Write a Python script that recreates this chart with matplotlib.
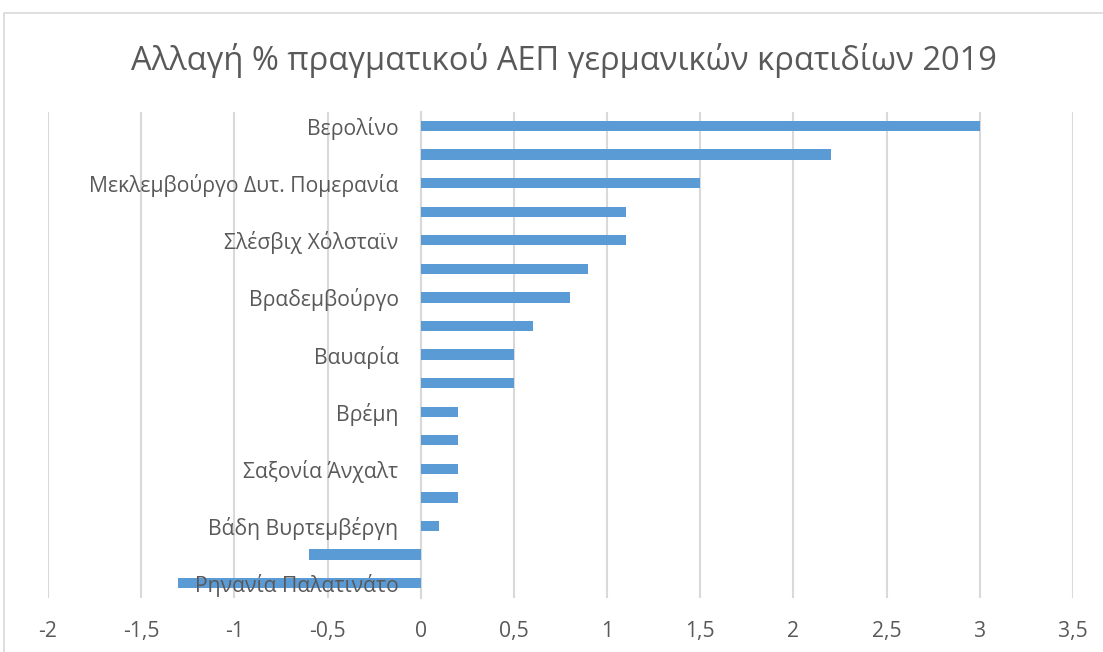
import matplotlib
matplotlib.use("Agg")
from matplotlib import pyplot as plt
from matplotlib.patches import Rectangle
from matplotlib.ticker import FuncFormatter

plt.rcParams['font.family'] = ['Open Sans', 'DejaVu Sans']

# data (top to bottom as in the chart)
states = ["Βερολίνο", "Αμβούργο", "Μεκλεμβούργο Δυτ. Πομερανία", "Σαξονία",
          "Σλέσβιχ Χόλσταϊν", "Θουριγγία", "Βραδεμβούργο", "Γερμανία",
          "Βαυαρία", "Έσση", "Βρέμη", "Κάτω Σαξονία", "Σαξονία Άνχαλτ",
          "Βόρεια Ρηνανία-Βεστφαλία", "Βάδη Βυρτεμβέργη", "Σάαρλαντ",
          "Ρηνανία Παλατινάτο"]
growth = [3.0, 2.2, 1.5, 1.1, 1.1, 0.9, 0.8, 0.6, 0.5, 0.5, 0.2, 0.2, 0.2,
          0.2, 0.1, -0.6, -1.3]
# Excel only shows every other category label
shown = [name if i % 2 == 0 else "" for i, name in enumerate(states)]

W, H = 1103, 652
fig = plt.figure(figsize=(W / 100, H / 100), dpi=100)
fig.patches.append(Rectangle((4 / W, -0.1), 1.2, 1 - 13 / H + 0.1,
                             transform=fig.transFigure, fill=False,
                             edgecolor="#D9D9D9", linewidth=1.2))

ax = fig.add_axes([48 / W, 54.5 / H, (1073 - 48) / W, (597.5 - 111.7) / H])
pos = list(range(len(states)))
ax.barh(pos, growth, height=0.36, color="#5B9BD5", zorder=3)

ax.set_xlim(-2, 3.5)
ax.set_ylim(len(states) - 0.5, -0.5)
ax.set_xticks([-2 + 0.5 * i for i in range(12)])
ax.xaxis.set_major_formatter(FuncFormatter(lambda v, p: ("%g" % v).replace(".", ",")))
ax.set_yticks(pos)
ax.set_yticklabels(shown)

ax.set_axisbelow(True)
ax.grid(axis="x", color="#D9D9D9", linewidth=1.5)
ax.yaxis.set_zorder(5)  # labels over the bars, like Excel
for s in ["top", "right", "bottom"]:
    ax.spines[s].set_visible(False)
ax.spines["left"].set_position(("data", 0))
ax.spines["left"].set_color("#D9D9D9")
ax.spines["left"].set_linewidth(1.5)
ax.spines["left"].set_zorder(1)
ax.tick_params(axis="y", length=0, pad=16, labelsize=15.2, labelcolor="#595959")
ax.tick_params(axis="x", length=0, pad=17, labelsize=15.2, labelcolor="#595959")

fig.text(564 / W, 1 - 60 / H, "Αλλαγή % πραγματικού ΑΕΠ γερμανικών κρατιδίων 2019",
         ha="center", va="center", fontsize=23.5, color="#595959")

plt.savefig("out.png", dpi=100)
